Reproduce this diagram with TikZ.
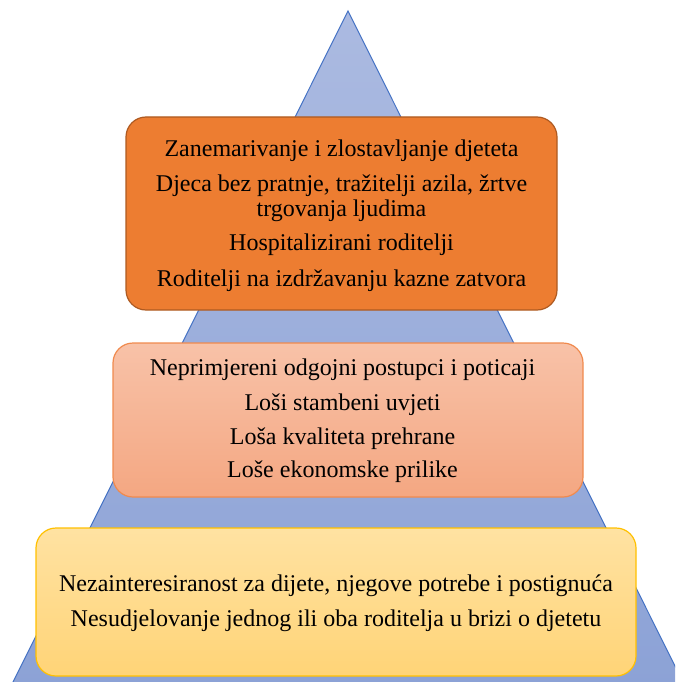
\documentclass[tikz,border=0pt]{standalone}
\usepackage{fontspec}
\setmainfont{Liberation Serif}
\definecolor{triTop}{HTML}{ABBAE1}
\definecolor{triBot}{HTML}{8CA2D6}
\definecolor{triLine}{HTML}{4472C4}
\definecolor{orFill}{HTML}{ED7D31}
\definecolor{orLine}{HTML}{AE5A21}
\definecolor{saTop}{HTML}{F8C2A8}
\definecolor{saBot}{HTML}{F4A782}
\definecolor{saLine}{HTML}{F08A4E}
\definecolor{yeTop}{HTML}{FFE2A2}
\definecolor{yeBot}{HTML}{FFD477}
\definecolor{yeLine}{HTML}{FFC000}
\tikzset{
  box/.style={rounded corners=20pt, line width=1.2pt, inner sep=0pt},
  txt/.style={anchor=base, inner sep=0pt, font=\fontsize{24}{28}\selectfont, text=black},
}
\begin{document}
\begin{tikzpicture}[x=1pt,y=-1pt]
\useasboundingbox (0,0) rectangle (675,682);
\begin{scope}
\clip (0,0) rectangle (675,682);
\shade[top color=triTop, bottom color=triBot, draw=triLine, line width=1pt]
  (348,11) -- (10,688) -- (686,688) -- cycle;
\end{scope}
% orange box
\node[box, draw=orLine, fill=orFill, minimum width=431pt, minimum height=193pt] (b1) at (341.5,213.5) {};
\node[txt] (t11) at (341.5,156.7) {Zanemarivanje i zlostavljanje djeteta};
\node[txt] (t12) at (341.5,191.7) {Djeca bez pratnje, tražitelji azila, žrtve};
\node[txt] (t13) at (341.5,216) {trgovanja ljudima};
\node[txt] (t14) at (341.5,250.7) {Hospitalizirani roditelji};
\node[txt] (t15) at (341.5,286.7) {Roditelji na izdržavanju kazne zatvora};
% salmon box
\node[box, draw=saLine, top color=saTop, bottom color=saBot, minimum width=470pt, minimum height=154pt] (b2) at (348,420) {};
\node[txt] (t21) at (342.5,375.7) {Neprimjereni odgojni postupci i poticaji};
\node[txt] (t22) at (342.5,410) {Loši stambeni uvjeti};
\node[txt] (t23) at (342.5,444) {Loša kvaliteta prehrane};
\node[txt] (t24) at (342.5,477) {Loše ekonomske prilike};
% yellow box
\node[box, draw=yeLine, top color=yeTop, bottom color=yeBot, minimum width=600pt, minimum height=148pt] (b3) at (336,602) {};
\node[txt] (t31) at (336,591.7) {Nezainteresiranost za dijete, njegove potrebe i postignuća};
\node[txt] (t32) at (336,626) {Nesudjelovanje jednog ili oba roditelja u brizi o djetetu};
\end{tikzpicture}
\end{document}
